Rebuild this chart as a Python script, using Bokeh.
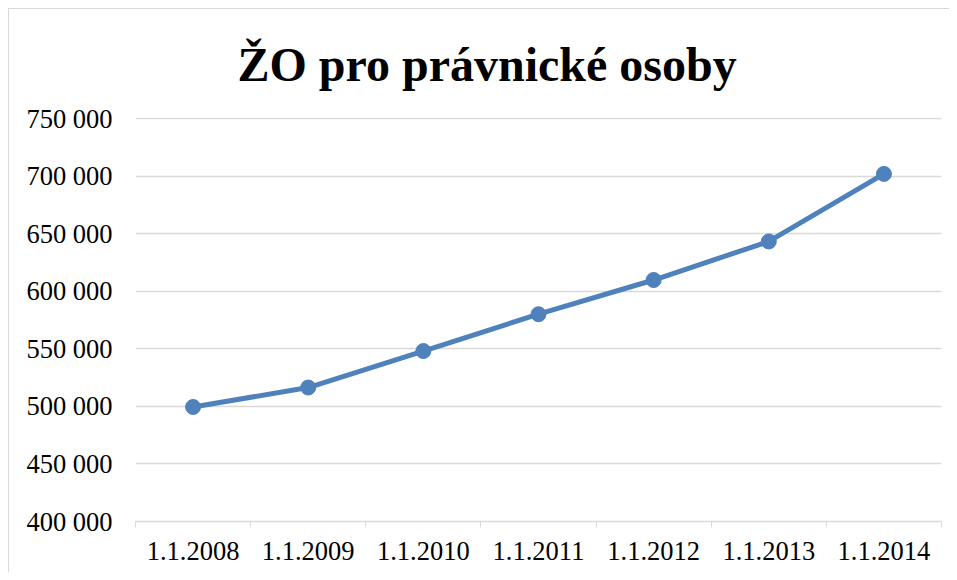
from bokeh.plotting import figure
from bokeh.models import Range1d, FixedTicker, ColumnDataSource, InlineStyleSheet
from bokeh.embed import file_html
from bokeh.resources import INLINE

# ---- data ----
categories = ["1.1.2008", "1.1.2009", "1.1.2010", "1.1.2011", "1.1.2012", "1.1.2013", "1.1.2014"]
values = [499500, 516400, 548100, 580100, 609800, 643300, 702000]
y_ticks = [400000, 450000, 500000, 550000, 600000, 650000, 700000, 750000]
y_tick_labels = ["400 000", "450 000", "500 000", "550 000", "600 000", "650 000", "700 000", "750 000"]
title_text = "ŽO pro právnické osoby"

FONT = "Liberation Serif"
BLUE = "#4F81BD"
GRID = "#D9D9D9"

xs = [i + 0.5 for i in range(len(categories))]
src = ColumnDataSource(dict(x=xs, y=values, cat=categories))

p = figure(width=941, height=564, output_backend="svg", toolbar_location=None,
           x_range=Range1d(0, len(categories)), y_range=Range1d(y_ticks[0], y_ticks[-1] + 1000),
           min_border_left=126, min_border_right=9, min_border_top=10, min_border_bottom=52)
p.stylesheets = [InlineStyleSheet(css=":host { margin-left: 8px; margin-top: 8px; "
                                      "border-left: 1px solid #D9D9D9; border-top: 1px solid #D9D9D9; }")]
p.background_fill_color = "white"
p.border_fill_color = "white"
p.outline_line_color = None

p.title.text = title_text
p.title.text_font = FONT
p.title.text_font_size = "48px"
p.title.text_font_style = "bold"
p.title.text_color = "black"
p.title.align = "left"
p.title.offset = 102
p.title.standoff = 53

# x axis
p.xaxis.ticker = FixedTicker(ticks=xs, minor_ticks=list(range(len(categories) + 1)))
p.xaxis.major_label_overrides = {x: c for x, c in zip(xs, categories)}
p.xaxis.major_tick_out = 0
p.xaxis.major_tick_in = 0
p.xaxis.minor_tick_out = 6
p.xaxis.minor_tick_in = 0
p.xaxis.minor_tick_line_color = GRID
p.xaxis.axis_line_color = GRID
p.xaxis.axis_line_width = 1.5
p.xaxis.major_label_text_font = FONT
p.xaxis.major_label_text_font_size = "26.5px"
p.xaxis.major_label_text_color = "black"
p.xaxis.major_label_standoff = 14

# y axis
p.yaxis.ticker = FixedTicker(ticks=y_ticks)
p.yaxis.major_label_overrides = {t: l for t, l in zip(y_ticks, y_tick_labels)}
p.yaxis.axis_line_color = None
p.yaxis.major_tick_line_color = None
p.yaxis.minor_tick_line_color = None
p.yaxis.major_tick_out = 0
p.yaxis.major_label_text_font = FONT
p.yaxis.major_label_text_font_size = "26.5px"
p.yaxis.major_label_text_color = "black"
p.yaxis.major_label_standoff = 23

p.xgrid.grid_line_color = None
p.ygrid.grid_line_color = GRID
p.ygrid.grid_line_width = 1.5

p.line("x", "y", source=src, line_color=BLUE, line_width=5)
p.scatter("x", "y", source=src, size=15, fill_color=BLUE, line_color=BLUE)

open("out.html", "w").write(file_html(p, INLINE))
